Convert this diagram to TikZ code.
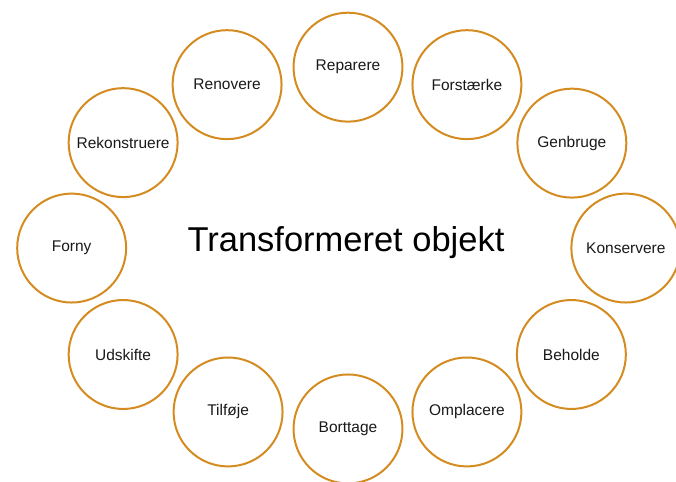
\documentclass[tikz,border=0pt]{standalone}
\usepackage{fontspec}
\setmainfont{Liberation Sans}
\usetikzlibrary{shapes.misc, shapes, arrows}
\usetikzlibrary{positioning}

\definecolor{ringOrange}{RGB}{212,140,32}
\definecolor{labelGray}{RGB}{25,25,25}

\tikzset{
	ring/.style={circle, draw=ringOrange, line width=2pt, fill=white,
		minimum size=109pt, inner sep=0pt, text=labelGray, font=\fontsize{15.5}{18}\selectfont},
	hub/.style={text=black, font=\fontsize{34.5}{40}\selectfont}
}

\begin{document}
\begin{tikzpicture}[x=1pt, y=-1pt]
		\draw[use as bounding box, transparent] (0,0) rectangle (676,481);

		% Center text
		\node[hub] (objekt) at (346,243) {Transformeret objekt};

		% Rings: name / x / y / label
		\foreach \n/\x/\y/\t in {
			reparere/348/67/Reparere,
			forstaerke/467/84.5/Forstærke,
			genbruge/572/143/Genbruge,
			konservere/626/248/Konservere,
			beholde/571.5/354.5/Beholde,
			omplacere/467/412/Omplacere,
			borttage/348/429/Borttage,
			tilfoeje/228/412/Tilføje,
			udskifte/123/354.5/Udskifte,
			forny/71.5/248/Forny,
			rekonstruere/123/142.5/Rekonstruere,
			renovere/227/84.5/Renovere}
		{
			\node[ring] (\n) at (\x,\y) {\t};
		}
\end{tikzpicture}
\end{document}
